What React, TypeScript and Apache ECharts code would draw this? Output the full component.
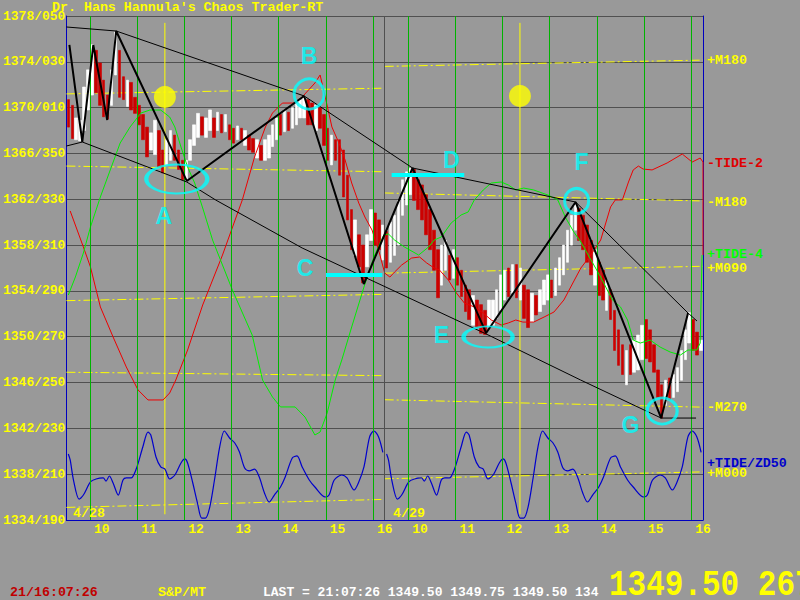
import React, { useEffect, useRef } from "react";
import * as echarts from "echarts";

// ---------- axis ticks ----------
const Y_TICK_VALUES = [1334, 1338, 1342, 1346, 1350, 1354, 1358, 1362, 1366, 1370, 1374, 1378];
const Y_TICK_LABELS = ["1334/190", "1338/210", "1342/230", "1346/250", "1350/270", "1354/290", "1358/310", "1362/330", "1366/350", "1370/010", "1374/030", "1378/050"];
// chart time = hours since 9:15 of 4/28; the 4/29 session starts at 6.75
const X_TICK_VALUES = [0.75, 1.75, 2.75, 3.75, 4.75, 5.75, 6.75, 7.5, 8.5, 9.5, 10.5, 11.5, 12.5, 13.5];
const X_TICK_LABELS = ["10", "11", "12", "13", "14", "15", "16", "10", "11", "12", "13", "14", "15", "16"];
const SESSION_HOURS = 6.75;
const BAR_MINUTES = 5;

// ---------- price bars (5 minute) ----------
const D1_HIGH = [
  1370.7, 1370.2, 1369.1, 1368.9, 1371.8, 1373.3, 1375.5, 1375.0, 1373.9, 1372.4,
  1371.1, 1373.3, 1376.6, 1375.0, 1372.7, 1372.4, 1372.2, 1370.9, 1370.2, 1369.4,
  1368.3, 1367.8, 1368.9, 1368.0, 1366.3, 1367.2, 1368.0, 1367.6, 1366.3, 1365.4,
  1365.4, 1367.2, 1368.5, 1369.5, 1369.2, 1369.1, 1369.8, 1369.1, 1369.6, 1369.4,
  1369.4, 1368.5, 1368.2, 1368.4, 1368.2, 1368.0, 1367.6, 1367.3, 1367.2, 1366.7,
  1367.2, 1367.6, 1368.5, 1369.1, 1369.4, 1369.8, 1369.6, 1370.0, 1370.4, 1370.7,
  1371.0, 1370.7, 1370.4, 1370.2, 1370.0, 1369.4, 1368.2, 1367.6, 1367.2, 1367.2,
  1366.3, 1364.1, 1361.1, 1360.2, 1358.9, 1358.0, 1358.9, 1361.1, 1360.8, 1360.2,
  1359.75,
];
const D1_LOW = [
  1368.3, 1367.3, 1367.2, 1367.1, 1368.0, 1369.8, 1371.1, 1371.3, 1370.2, 1369.2,
  1369.0, 1370.2, 1372.85, 1370.9, 1370.7, 1370.1, 1369.8, 1369.5, 1368.5, 1367.2,
  1365.7, 1366.3, 1365.9, 1364.8, 1364.3, 1365.0, 1365.4, 1365.4, 1364.6, 1363.7,
  1363.6, 1365.4, 1366.7, 1367.4, 1367.6, 1367.4, 1368.0, 1367.4, 1368.0, 1367.8,
  1367.9, 1367.2, 1366.9, 1367.2, 1367.2, 1366.7, 1366.3, 1366.1, 1365.6, 1365.4,
  1365.4, 1365.6, 1366.6, 1367.2, 1367.6, 1367.9, 1368.0, 1368.2, 1368.5, 1369.1,
  1369.1, 1368.5, 1368.5, 1368.0, 1368.2, 1366.7, 1365.4, 1365.0, 1365.4, 1364.1,
  1362.2, 1360.2, 1357.6, 1357.1, 1356.1, 1354.7, 1356.1, 1358.4, 1358.0, 1357.6,
  1356.7,
];
const D1_DIR = "dduuuuuddd" + "duuddudddd" + "duudduuddd" + "uuuuduudud" + "uddududdud" + "uuuududuuu" + "uddudddudd" + "dddudduudd" + "u";

const D2_HIGH = [
  1359.2, 1360.0, 1360.6, 1361.9, 1363.7, 1364.4, 1364.7, 1364.6, 1363.7, 1363.25,
  1362.4, 1361.1, 1359.3, 1357.6, 1358.0, 1358.4, 1357.1, 1357.6, 1356.9, 1355.8,
  1354.5, 1354.1, 1353.6, 1353.2, 1352.8, 1352.3, 1353.2, 1353.2, 1354.1, 1355.4,
  1355.8, 1356.0, 1356.3, 1356.3, 1356.0, 1354.5, 1354.1, 1353.8, 1353.6, 1354.1,
  1354.95, 1355.4, 1354.95, 1356.0, 1356.9, 1358.0, 1359.3, 1360.6, 1361.7, 1361.2,
  1360.6, 1359.75, 1358.4, 1357.6, 1356.5, 1355.8, 1354.95, 1354.1, 1352.3, 1350.6,
  1349.3, 1348.8, 1349.3, 1349.7, 1350.15, 1351.0, 1351.5, 1350.6, 1349.3, 1347.1,
  1345.8, 1346.2, 1346.4, 1346.7, 1347.3, 1348.8, 1350.6, 1352.1, 1351.5, 1350.4,
  1349.7,
];
const D2_LOW = [
  1356.0, 1356.5, 1357.1, 1358.0, 1360.6, 1361.5, 1362.4, 1361.9, 1361.1, 1360.2,
  1358.9, 1357.6, 1355.8, 1353.4, 1354.5, 1355.8, 1354.95, 1355.1, 1354.5, 1353.5,
  1352.2, 1351.5, 1351.0, 1350.8, 1350.3, 1350.2, 1350.85, 1351.0, 1351.6, 1352.3,
  1353.2, 1353.5, 1353.8, 1353.4, 1353.2, 1351.6, 1350.8, 1351.3, 1351.9, 1352.2,
  1352.8, 1353.2, 1353.4, 1353.6, 1354.5, 1355.4, 1356.5, 1358.0, 1359.3, 1358.4,
  1357.6, 1356.5, 1355.4, 1354.5, 1353.6, 1353.2, 1352.3, 1351.5, 1348.8, 1347.5,
  1346.7, 1345.8, 1346.7, 1346.9, 1347.1, 1348.0, 1348.1, 1347.8, 1346.9, 1344.7,
  1342.9, 1344.0, 1344.5, 1344.7, 1345.2, 1346.2, 1348.0, 1349.45, 1348.8, 1348.4,
  1348.8,
];
const D2_DIR = "duuuuuuddd" + "dddduududd" + "dduddduuuu" + "udududdudu" + "uuduuuuuud" + "dddudduddd" + "duduuudddd" + "duduuuuudd" + "u";

// ---------- TIDE-2 (red) ----------
const TIDE2_T = [0.08, 0.36, 0.51, 0.72, 0.99, 1.27, 1.52, 1.73, 2.05, 2.19, 2.32, 2.57, 2.89, 3.31, 3.73, 3.99, 4.22, 4.37, 4.58, 4.85, 5.0, 5.27, 5.38, 5.48, 5.63, 5.78, 5.91, 6.05, 6.2, 6.33, 6.48, 6.62, 6.75, 6.86, 6.96, 7.11, 7.32, 7.49, 7.64, 7.8, 7.91, 8.1, 8.27, 8.44, 8.65, 8.84, 9.01, 9.22, 9.37, 9.53, 9.68, 9.91, 10.13, 10.34, 10.55, 10.74, 10.91, 11.12, 11.33, 11.54, 11.64, 11.79, 11.92, 12.02, 12.13, 12.23, 12.42, 12.74, 13.06, 13.27, 13.44, 13.5, 13.5];
const TIDE2_V = [1360.98, 1357.83, 1356.09, 1352.6, 1349.98, 1347.36, 1345.35, 1344.48, 1344.48, 1345.09, 1346.22, 1348.84, 1352.77, 1357.13, 1361.94, 1365.69, 1368.31, 1369.53, 1370.4, 1370.4, 1370.93, 1372.15, 1372.85, 1371.1, 1368.31, 1366.91, 1365.43, 1363.42, 1361.67, 1360.45, 1359.32, 1357.57, 1355.56, 1355.21, 1355.65, 1356.26, 1356.87, 1356.96, 1356.44, 1356.0, 1355.83, 1354.95, 1353.82, 1352.94, 1352.6, 1352.07, 1351.46, 1351.02, 1351.2, 1351.46, 1351.28, 1351.28, 1351.72, 1352.16, 1353.21, 1354.69, 1356.0, 1357.13, 1358.44, 1361.33, 1361.94, 1361.94, 1363.51, 1364.56, 1364.9, 1364.64, 1364.56, 1365.17, 1365.95, 1365.25, 1365.6, 1365.25, 1357.13];

// ---------- TIDE-4 (green) ----------
const TIDE4_T = [0.04, 0.19, 0.36, 0.51, 0.72, 0.93, 1.14, 1.35, 1.58, 1.77, 2.0, 2.19, 2.3, 2.43, 2.57, 2.72, 2.89, 3.1, 3.52, 3.94, 4.16, 4.37, 4.54, 4.85, 5.06, 5.27, 5.38, 5.53, 5.7, 5.84, 6.05, 6.31, 6.52, 6.73, 6.83, 6.96, 7.17, 7.47, 7.68, 7.8, 7.95, 8.16, 8.37, 8.52, 8.65, 8.84, 9.01, 9.22, 9.37, 9.53, 9.7, 9.91, 10.21, 10.42, 10.59, 10.76, 10.91, 11.33, 11.47, 11.58, 11.75, 11.9, 12.02, 12.17, 12.38, 12.59, 12.8, 13.02, 13.18, 13.37, 13.44, 13.48];
const TIDE4_V = [1353.64, 1355.21, 1357.31, 1359.58, 1362.2, 1364.56, 1366.91, 1368.31, 1369.53, 1369.79, 1369.79, 1369.18, 1368.31, 1366.56, 1364.82, 1363.42, 1361.24, 1358.44, 1354.08, 1350.15, 1346.22, 1344.74, 1343.87, 1343.87, 1342.99, 1341.42, 1341.68, 1343.34, 1346.22, 1347.97, 1350.85, 1354.34, 1356.96, 1358.88, 1358.97, 1358.44, 1357.83, 1357.13, 1357.83, 1358.44, 1358.71, 1359.93, 1360.63, 1360.89, 1361.94, 1362.81, 1363.42, 1363.51, 1363.25, 1362.81, 1362.98, 1362.81, 1362.37, 1361.94, 1360.37, 1359.14, 1358.27, 1355.21, 1354.08, 1353.21, 1352.6, 1351.46, 1349.71, 1349.45, 1349.71, 1349.1, 1348.67, 1348.4, 1348.84, 1348.84, 1349.45, 1357.13];

// ---------- TIDE/ZD50 (blue, same each session; hours since 9:15) ----------
const ZD50_T = [0.04, 0.08, 0.15, 0.27, 0.36, 0.51, 0.63, 0.78, 0.84, 0.91, 0.99, 1.1, 1.2, 1.27, 1.37, 1.48, 1.62, 1.73, 1.79, 1.9, 2.0, 2.09, 2.19, 2.3, 2.43, 2.51, 2.57, 2.68, 2.78, 2.87, 2.95, 3.04, 3.14, 3.25, 3.35, 3.46, 3.57, 3.67, 3.78, 3.88, 3.99, 4.09, 4.2, 4.3, 4.41, 4.54, 4.64, 4.79, 4.89, 5.0, 5.15, 5.27, 5.49, 5.57, 5.68, 5.84, 5.95, 6.1, 6.2, 6.31, 6.43, 6.52, 6.62, 6.71];
const ZD50_V = [1339.76, 1339.24, 1337.49, 1335.83, 1336.18, 1337.32, 1337.58, 1337.67, 1337.4, 1337.84, 1337.23, 1336.18, 1337.49, 1337.67, 1337.67, 1338.45, 1340.37, 1341.68, 1341.42, 1339.5, 1338.63, 1338.45, 1337.58, 1337.93, 1338.98, 1339.33, 1338.98, 1337.23, 1335.48, 1334.17, 1334.17, 1335.13, 1337.49, 1340.37, 1341.77, 1341.16, 1340.72, 1339.94, 1338.54, 1338.28, 1338.45, 1337.75, 1336.36, 1335.57, 1336.18, 1336.88, 1337.75, 1339.41, 1339.59, 1338.63, 1337.49, 1336.88, 1336.01, 1336.18, 1337.49, 1337.93, 1337.67, 1336.62, 1337.32, 1338.63, 1341.25, 1341.77, 1341.25, 1339.9];

// ---------- moon-phase levels (start / end price of each session) ----------
const MOON_D1_START = [1371.2, 1364.9, 1353.15, 1346.9, 1335.1];
const MOON_D1_END = [1371.7, 1364.4, 1353.7, 1346.6, 1335.8];
const MOON_D2_START = [1373.6, 1362.55, 1355.55, 1344.5, 1337.6];
const MOON_D2_END = [1374.15, 1361.85, 1356.15, 1343.85, 1338.2];

// ---------- time markers ----------
const GREEN_LINE_T = [0.5, 1.5, 2.5, 3.5, 4.5, 5.5, 6.5, 7.25, 8.25, 9.25, 10.25, 11.25, 12.25, 13.25];
const SUN_T = [2.088, 9.618];
const SUN_P = [1370.93, 1371.02];

// ---------- trend lines ----------
const UPPER_T = [0, 1.055, 5.041, 7.34, 10.799, 13.183, 13.373];
const UPPER_V = [1377.04, 1376.69, 1371.02, 1364.73, 1361.76, 1352.07, 1351.37];
const LOWER_T = [0, 0.337, 2.552, 3.164, 4.999, 8.901, 10.905, 12.613, 13.352];
const LOWER_V = [1366.65, 1367.0, 1363.51, 1361.94, 1357.75, 1350.24, 1346.22, 1342.9, 1342.9];
const ZIGZAG_T = [0.063, 0.337, 0.57, 0.865, 1.055, 2.552, 5.041, 6.307, 7.34, 8.901, 10.799, 12.613, 13.183];
const ZIGZAG_V = [1375.47, 1367.0, 1375.47, 1368.92, 1376.69, 1363.6, 1371.02, 1354.6, 1364.73, 1350.33, 1361.76, 1342.9, 1352.07];

// ---------- annotations ----------
const NOTE_NAMES = ["A", "B", "C", "D", "E", "F", "G"];
const NOTE_T = [2.067, 5.147, 5.062, 8.163, 7.952, 10.926, 11.959];
const NOTE_P = [1360.54, 1374.51, 1356.0, 1365.43, 1350.15, 1365.25, 1342.29];
const RING_T = [2.341, 5.147, 8.943, 10.82, 12.634];
const RING_P = [1363.77, 1371.19, 1349.98, 1361.85, 1343.52];
const RING_SIZE = [[61, 29], [30, 30], [49, 21], [24, 25], [30, 26]];
const CUT_T = [[5.505, 6.7], [6.897, 8.437]];
const CUT_P = [1355.39, 1364.12];

const FONT_MONO = '"Liberation Mono", "DejaVu Sans Mono", monospace';
const YELLOW = "#ffff00";
const BLUE = "#0000c0";
const GREEN = "#00f000";

function buildBars(highs: number[], lows: number[], dirs: string, day: number) {
  return highs.map((h, i) => {
    const t = day * SESSION_HOURS + (i * BAR_MINUTES + BAR_MINUTES / 2) / 60;
    const l = lows[i];
    const up = dirs[i] === "u";
    return [t, up ? l : h, up ? h : l, l, h];
  });
}

function lineSeries(ts: number[], vs: number[], color: string, width: number, z: number, extra: any = {}) {
  return {
    type: "line",
    data: ts.map((t, i) => [t, vs[i]]),
    showSymbol: false,
    symbol: "none",
    silent: true,
    z,
    lineStyle: { color, width, ...(extra.lineStyle || {}) },
    ...(extra.smooth !== undefined ? { smooth: extra.smooth } : {}),
  };
}

function txt(text: string, x: number, y: number, fill: string, size = 13.3, extra: any = {}) {
  return {
    type: "text",
    x,
    y,
    silent: true,
    z: 100,
    ...extra,
    style: { text, fill, font: `bold ${size}px ${FONT_MONO}`, align: "left", verticalAlign: "middle" },
  };
}

export default function App() {
  const ref = useRef<HTMLDivElement>(null);
  useEffect(() => {
    if (!ref.current) return;
    const chart = echarts.init(ref.current, null, { renderer: "svg" });
    const bars = [...buildBars(D1_HIGH, D1_LOW, D1_DIR, 0), ...buildBars(D2_HIGH, D2_LOW, D2_DIR, 1)];

    const series: any[] = [];
    // vertical hour lines + session divider
    series.push({
      type: "line",
      data: [[0, 1334]],
      showSymbol: false,
      silent: true,
      z: 1,
      lineStyle: { opacity: 0 },
      markLine: {
        silent: true,
        symbol: ["none", "none"],
        label: { show: false },
        animation: false,
        data: [
          ...GREEN_LINE_T.map((t) => ({ xAxis: t, lineStyle: { color: "#00b400", width: 1, type: "solid" } })),
          { xAxis: SESSION_HOURS, lineStyle: { color: "#505050", width: 1, type: "solid" } },
        ],
      },
    });
    // moon lines
    MOON_D1_START.forEach((p, i) => {
      series.push(lineSeries([0, SESSION_HOURS], [p, MOON_D1_END[i]], YELLOW, 1, 2, { lineStyle: { type: [9, 3, 2, 3] } }));
    });
    MOON_D2_START.forEach((p, i) => {
      series.push(lineSeries([SESSION_HOURS, 2 * SESSION_HOURS], [p, MOON_D2_END[i]], YELLOW, 1, 2, { lineStyle: { type: [9, 3, 2, 3] } }));
    });
    // sun lines
    SUN_T.forEach((t) => {
      series.push(lineSeries([t, t], [1377.4, 1334.5], YELLOW, 1, 2));
    });
    series.push({
      type: "scatter",
      data: SUN_T.map((t, i) => [t, SUN_P[i]]),
      symbolSize: 22,
      itemStyle: { color: YELLOW },
      silent: true,
      z: 6,
    });
    // price bars
    series.push({
      type: "candlestick",
      data: bars,
      barWidth: 3,
      silent: true,
      z: 3,
      itemStyle: { color: "#ffffff", color0: "#cc0000", borderColor: "#ffffff", borderColor0: "#cc0000", borderWidth: 0.6 },
    });
    // tides
    series.push(lineSeries(TIDE2_T, TIDE2_V, "#ee0000", 1, 4));
    series.push(lineSeries(TIDE4_T, TIDE4_V, GREEN, 1, 4));
    [0, 1].forEach((d) => {
      series.push(lineSeries(ZD50_T.map((t) => t + d * SESSION_HOURS), ZD50_V, "#0000cc", 1.2, 4, { smooth: 0.3 }));
    });
    // trend lines
    series.push(lineSeries(UPPER_T, UPPER_V, "#000000", 1, 5));
    series.push(lineSeries(LOWER_T, LOWER_V, "#000000", 1, 5));
    series.push(lineSeries(ZIGZAG_T, ZIGZAG_V, "#000000", 2, 5));
    // annotations
    series.push({
      type: "scatter",
      data: RING_T.map((t, i) => ({ value: [t, RING_P[i]], symbolSize: RING_SIZE[i] })),
      itemStyle: { color: "rgba(0,0,0,0)", borderColor: "#00ffff", borderWidth: 3 },
      silent: true,
      z: 7,
    });
    CUT_T.forEach((ts, i) => {
      series.push(lineSeries(ts, [CUT_P[i], CUT_P[i]], "#00ffff", 4, 7));
    });
    series.push({
      type: "scatter",
      data: NOTE_NAMES.map((n, i) => ({ name: n, value: [NOTE_T[i], NOTE_P[i]] })),
      symbolSize: 1,
      itemStyle: { color: "rgba(0,0,0,0)" },
      silent: true,
      z: 8,
      label: {
        show: true,
        position: "inside",
        formatter: "{b}",
        color: "#00ffff",
        fontSize: 23,
        fontWeight: "bold",
        fontFamily: '"Liberation Sans", Arial, sans-serif',
      },
    });

    const option: any = {
      animation: false,
      backgroundColor: "#999999",
      grid: { left: 63, top: 16, width: 640, height: 504, show: false },
      xAxis: {
        type: "value",
        min: 0,
        max: 2 * SESSION_HOURS,
        axisLine: { show: true, onZero: false, lineStyle: { color: BLUE, width: 1 } },
        axisTick: { show: false },
        splitLine: { show: false },
        axisLabel: {
          customValues: X_TICK_VALUES,
          showMinLabel: true,
          showMaxLabel: true,
          color: YELLOW,
          fontFamily: FONT_MONO,
          fontWeight: "bold",
          fontSize: 13,
          margin: 3,
          formatter: (v: number) => {
            const i = X_TICK_VALUES.findIndex((x) => Math.abs(x - v) < 1e-6);
            return i >= 0 ? X_TICK_LABELS[i] : "";
          },
        },
      },
      yAxis: [
        {
          type: "value",
          min: 1334,
          max: 1378,
          interval: 4,
          position: "left",
          axisLine: { show: true, lineStyle: { color: BLUE, width: 1 } },
          axisTick: { show: false },
          splitLine: { show: true, lineStyle: { color: "#505050", width: 1 } },
          axisLabel: {
            color: YELLOW,
            fontFamily: FONT_MONO,
            fontWeight: "bold",
            fontSize: 13,
            margin: 1,
            formatter: (v: number) => {
              const i = Y_TICK_VALUES.findIndex((x) => Math.abs(x - v) < 1e-6);
              return i >= 0 ? Y_TICK_LABELS[i] : "";
            },
          },
        },
        {
          type: "value",
          min: 1334,
          max: 1378,
          position: "right",
          axisLine: { show: true, lineStyle: { color: BLUE, width: 1 } },
          axisTick: { show: false },
          splitLine: { show: false },
          axisLabel: { show: false },
        },
      ],
      series,
      graphic: [
        txt("Dr. Hans Hannula's Chaos Trader-RT", 52, 7, YELLOW),
        txt("4/28", 73, 513, YELLOW),
        txt("4/29", 393, 513, YELLOW),
        txt("+M180", 707, 60, YELLOW),
        txt("-TIDE-2", 707, 163, "#e00000"),
        txt("-M180", 707, 202, YELLOW),
        txt("+M090", 707, 268, YELLOW),
        txt("+TIDE-4", 707, 254, "#00ff00"),
        txt("-M270", 707, 407, YELLOW),
        txt("+TIDE/ZD50", 707, 463, "#0000cc"),
        txt("+M000", 707, 473, YELLOW),
        txt("21/16:07:26", 10, 592, "#c00000"),
        txt("S&P/MT", 158, 592, YELLOW),
        txt("LAST = 21:07:26 1349.50 1349.75 1349.50 134", 263, 592, "#ffffff", 13),
        txt("1349.50 267.5", 609, 585, YELLOW, 31, { scaleY: 1.2 }),
      ],
    };
    chart.setOption(option);
    return () => chart.dispose();
  }, []);

  return (
    <div
      ref={ref}
      style={{ position: "fixed", left: 0, top: 0, width: 800, height: 600, background: "#999999" }}
    />
  );
}
